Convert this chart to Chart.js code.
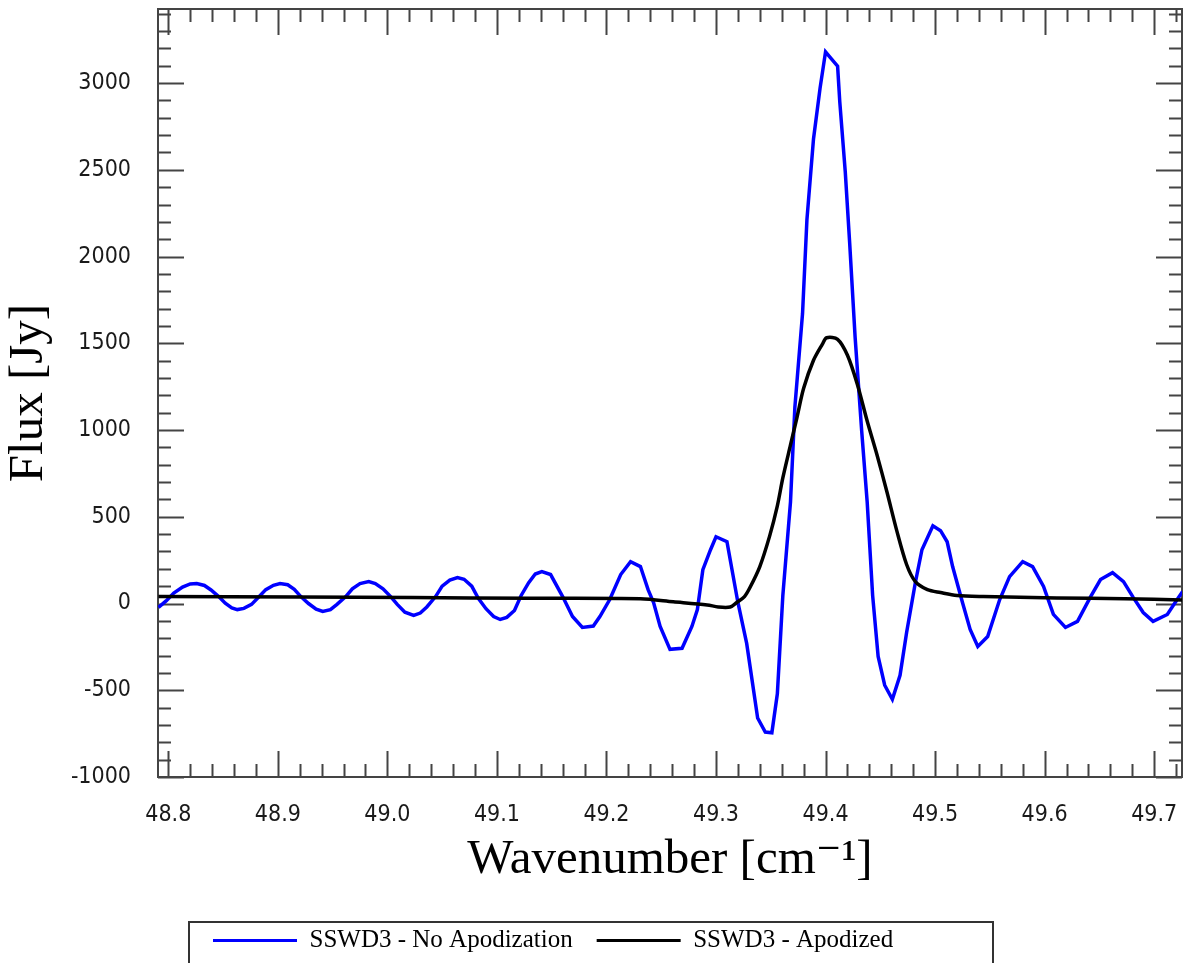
<!DOCTYPE html>
<html>
<head>
<meta charset="utf-8">
<script src="https://cdn.jsdelivr.net/npm/chart.js@4/dist/chart.umd.min.js"></script>
<style>
html,body{margin:0;padding:0;background:#ffffff;}
#wrap{width:1196px;height:963px;position:relative;overflow:hidden;}
</style>
</head>
<body>
<div id="wrap"><canvas id="c" width="1196" height="963"></canvas></div>
<script>
// ---- data ----
const seriesNames = ['SSWD3 - No Apodization', 'SSWD3 - Apodized'];
const xAxisTitle = 'Wavenumber [cm\u207B\u00B9]';
const yAxisTitle = 'Flux [Jy]';

const xTickValues = [48.8, 48.9, 49.0, 49.1, 49.2, 49.3, 49.4, 49.5, 49.6, 49.7];
const yTickValues = [-1000, -500, 0, 500, 1000, 1500, 2000, 2500, 3000];

const wavenumberNoApod = [
  48.791, 48.798, 48.805, 48.813, 48.820, 48.826, 48.833, 48.839, 48.846, 48.852,
  48.858, 48.863, 48.869, 48.876, 48.883, 48.889, 48.896, 48.902, 48.909, 48.915,
  48.921, 48.928, 48.935, 48.941, 48.948, 48.954, 48.962, 48.968, 48.975, 48.983,
  48.989, 48.996, 49.003, 49.009, 49.016, 49.024, 49.030, 49.036, 49.044, 49.050,
  49.057, 49.064, 49.070, 49.077, 49.083, 49.090, 49.097, 49.103, 49.109, 49.116,
  49.122, 49.129, 49.135, 49.141, 49.149, 49.160, 49.169, 49.178, 49.188, 49.194,
  49.203, 49.213, 49.222, 49.231, 49.238, 49.243, 49.249, 49.258, 49.269, 49.278,
  49.283, 49.288, 49.295, 49.300, 49.310, 49.320, 49.328, 49.338, 49.345, 49.351,
  49.356, 49.361, 49.368, 49.372, 49.379, 49.383, 49.389, 49.395, 49.400, 49.404,
  49.411, 49.413, 49.418, 49.422, 49.427, 49.433, 49.438, 49.443, 49.448, 49.454,
  49.461, 49.468, 49.474, 49.482, 49.488, 49.498, 49.505, 49.511, 49.516, 49.525,
  49.532, 49.539, 49.548, 49.559, 49.568, 49.580, 49.589, 49.599, 49.608, 49.619,
  49.630, 49.642, 49.651, 49.662, 49.672, 49.681, 49.690, 49.699, 49.712, 49.721,
  49.726
];
const fluxNoApod = [
  -23, 15, 60, 95, 113, 115, 104, 78, 40, 2,
  -25, -35, -28, -5, 40, 80, 105, 115, 108, 82,
  40, 0, -32, -46, -35, -5, 40, 85, 115, 126,
  115, 85, 40, -5, -50, -69, -55, -20, 40, 100,
  135, 150, 140, 100, 30, -30, -75, -92, -80, -40,
  45, 120, 170, 184, 167, 40, -75, -138, -130, -75,
  23, 167, 241, 213, 80, 6, -132, -264, -258, -132,
  -35, 195, 310, 385, 356, 6, -230, -660, -741, -745,
  -520, 46, 586, 1132, 1672, 2213, 2678, 2971, 3180, 3150,
  3098, 2891, 2488, 2080, 1534, 994, 586, 46, -305, -471,
  -552, -414, -167, 121, 310, 448, 420, 356, 213, 6,
  -149, -247, -190, 23, 155, 241, 213, 98, -63, -138,
  -103, 40, 138, 178, 126, 34, -52, -103, -63, 23,
  69
];

const wavenumberApod = [
  48.791, 48.920, 49.023, 49.130, 49.231, 49.261, 49.292, 49.302, 49.313, 49.319,
  49.326, 49.331, 49.340, 49.349, 49.356, 49.361, 49.368, 49.374, 49.380, 49.389,
  49.397, 49.401, 49.411, 49.420, 49.429, 49.438, 49.447, 49.456, 49.465, 49.474,
  49.482, 49.493, 49.505, 49.520, 49.544, 49.611, 49.673, 49.726
];
const fluxApod = [
  40, 38, 34, 30, 27, 10, -8, -20, -20, 6,
  40, 92, 213, 390, 563, 724, 914, 1075, 1241, 1402,
  1494, 1532, 1523, 1431, 1264, 1052, 856, 644, 420, 225,
  126, 80, 63, 46, 40, 32, 28, 20
];

// ---- chart ----
const toPoints = (xs, ys) => xs.map((x, i) => ({x: x, y: ys[i]}));
const AXIS_COLOR = '#444444';
const TICK_FONT = {family: "'DejaVu Sans Condensed', 'DejaVu Sans', sans-serif", size: 23};
const TITLE_FONT = {family: "'Liberation Serif', 'DejaVu Serif', serif", size: 49};

const framePlugin = {
  id: 'frameTicks',
  afterLayout(chart) {
    if (chart.legend) { chart.legend.left = 189; }
  },
  beforeDatasetsDraw(chart) {
    const {ctx, chartArea: a, scales: {x, y}} = chart;
    ctx.save();
    ctx.strokeStyle = AXIS_COLOR;
    ctx.lineWidth = 2;
    ctx.beginPath();
    for (let i = 0; ; i++) {
      const v = 48.8 + 0.02 * i;
      if (v > x.max + 1e-9) break;
      const px = Math.round(x.getPixelForValue(v)) + 0.5;
      const len = (i % 5 === 0) ? 26 : 13;
      ctx.moveTo(px, a.bottom); ctx.lineTo(px, a.bottom - len);
      ctx.moveTo(px, a.top); ctx.lineTo(px, a.top + len);
    }
    for (let i = 0; ; i++) {
      const v = -1000 + 100 * i;
      if (v > y.max) break;
      const py = Math.round(y.getPixelForValue(v)) + 0.5;
      const len = (v % 500 === 0) ? 26 : 13;
      ctx.moveTo(a.left, py); ctx.lineTo(a.left + len, py);
      ctx.moveTo(a.right, py); ctx.lineTo(a.right - len, py);
    }
    ctx.stroke();
    ctx.strokeRect(a.left, a.top, a.right - a.left, a.bottom - a.top);
    ctx.restore();
  },
  afterDraw(chart) {
    const {ctx} = chart;
    ctx.save();
    ctx.strokeStyle = '#333333';
    ctx.lineWidth = 2;
    ctx.strokeRect(189, 922, 804, 80);
    ctx.restore();
  }
};

new Chart(document.getElementById('c'), {
  type: 'line',
  data: {
    datasets: [
      {
        label: seriesNames[0],
        data: toPoints(wavenumberNoApod, fluxNoApod),
        borderColor: '#0000ff',
        backgroundColor: '#0000ff',
        borderWidth: 3.5,
        pointRadius: 0,
        tension: 0,
        order: 2
      },
      {
        label: seriesNames[1],
        data: toPoints(wavenumberApod, fluxApod),
        borderColor: '#000000',
        backgroundColor: '#000000',
        borderWidth: 3.5,
        pointRadius: 0,
        tension: 0.3,
        order: 1
      }
    ]
  },
  options: {
    responsive: false,
    devicePixelRatio: 1,
    animation: false,
    events: [],
    layout: {padding: {left: 0, right: 14, top: 9, bottom: 0}},
    scales: {
      x: {
        type: 'linear',
        min: 48.7906,
        max: 49.7254,
        afterBuildTicks: s => { s.ticks = xTickValues.map(v => ({value: v})); },
        afterFit: s => { s.height = 127; s.paddingLeft = 0; s.paddingRight = 0; s.paddingTop = 0; s.paddingBottom = 0; },
        grid: {display: false, drawTicks: false},
        border: {display: false},
        ticks: {
          autoSkip: false, maxRotation: 0, minRotation: 0, padding: 24,
          color: '#1a1a1a', font: TICK_FONT,
          callback: v => Number(v).toFixed(1)
        },
        title: {display: true, text: xAxisTitle, color: '#000000', font: TITLE_FONT, padding: {top: 0, bottom: 14}}
      },
      y: {
        type: 'linear',
        min: -1000,
        max: 3427,
        afterBuildTicks: s => { s.ticks = yTickValues.map(v => ({value: v})); },
        afterFit: s => { s.width = 158; s.paddingLeft = 0; s.paddingRight = 0; s.paddingTop = 0; s.paddingBottom = 0; },
        grid: {display: false, drawTicks: false},
        border: {display: false},
        ticks: {
          autoSkip: false, padding: 27,
          color: '#1a1a1a', font: TICK_FONT,
          callback: v => String(v)
        },
        title: {display: true, text: yAxisTitle, color: '#000000', font: TITLE_FONT, padding: {top: 0, bottom: 0}}
      }
    },
    plugins: {
      tooltip: {enabled: false},
      legend: {
        display: true,
        position: 'bottom',
        align: 'start',
        labels: {
          boxWidth: 84,
          boxHeight: 3,
          padding: 24,
          color: '#000000',
          font: {family: "'Liberation Serif', 'DejaVu Serif', serif", size: 25},
          generateLabels: chart => Chart.defaults.plugins.legend.labels.generateLabels(chart).map(l => Object.assign(l, {lineWidth: 0})),
          sort: (a, b) => a.datasetIndex - b.datasetIndex
        }
      }
    }
  },
  plugins: [framePlugin]
});
</script>
</body>
</html>
